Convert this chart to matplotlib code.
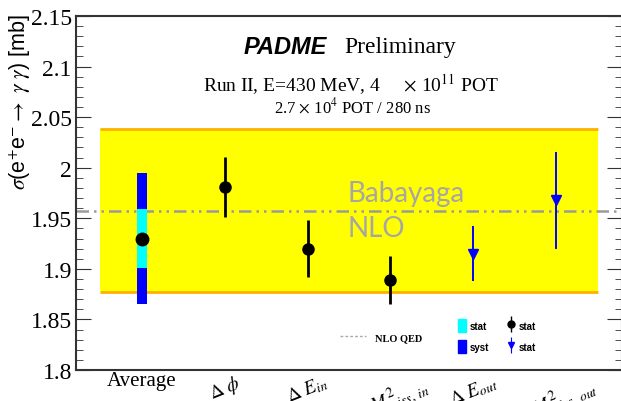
import matplotlib
matplotlib.use('Agg')
import matplotlib.pyplot as plt
from matplotlib.patches import Patch
from matplotlib.lines import Line2D
from matplotlib.ticker import MultipleLocator, FormatStrFormatter

plt.rcParams['mathtext.fontset'] = 'stix'

# categories on the x axis
labels = ['Average', r'$\Delta\ \phi$', r'$\Delta\ E_{in}$', r'$\Delta\ M^{2}_{miss,\, in}$',
          r'$\Delta\ E_{out}$', r'$\Delta\ M^{2}_{miss,\, out}$']

# average with stat and total (syst) bands
avg_val = 1.930
avg_stat = 0.029
avg_syst = 0.065

# black points (stat error only)
black_idx = [1, 2, 3]
black_vals = [1.981, 1.920, 1.889]
black_errs = [0.030, 0.028, 0.024]

# blue triangles (stat error only)
blue_idx = [4, 5]
blue_vals = [1.915, 1.968]
blue_errs = [0.027, 0.048]

# Babayaga NLO prediction and its band
nlo_qed = 1.957
band_lo = 1.877
band_hi = 2.038

fig = plt.figure(figsize=(6.21, 4.02), dpi=100)
ax = fig.add_axes([76 / 621, 31 / 402, 546 / 621, 354 / 402])

ax.fill_between([-0.5, 5.5], band_lo, band_hi, color='#ffff00', lw=0, zorder=1)
ax.hlines([band_lo, band_hi], -0.5, 5.5, color='#ffb000', lw=2.0, zorder=1.5)
ax.axhline(nlo_qed, color='#9a9a9a', lw=1.8, ls=(0, (5, 2, 1, 2, 1, 2)), zorder=2)

ax.bar(0, 2 * avg_syst, bottom=avg_val - avg_syst, width=0.12, color='#0000ff', zorder=3)
ax.bar(0, 2 * avg_stat, bottom=avg_val - avg_stat, width=0.12, color='#00ffff', zorder=3.5)
ax.plot([0], [avg_val], 'o', color='k', ms=9, zorder=5)

ax.errorbar(black_idx, black_vals, yerr=black_errs, fmt='o', color='k', ms=8,
            elinewidth=2, capsize=0, zorder=4)
ax.errorbar(blue_idx, blue_vals, yerr=blue_errs, fmt='v', color='#0000ff', ms=7,
            elinewidth=1.4, capsize=0, zorder=4)

ax.text(2.48, 1.967, 'Babayaga', color='#a6a6a6', fontsize=20, family='Lato',
        va='baseline', ha='left', zorder=6)
ax.text(2.48, 1.932, 'NLO', color='#a6a6a6', fontsize=20, family='Lato',
        va='baseline', ha='left', zorder=6)

ax.set_xlim(-0.795, 5.795)
ax.set_ylim(1.8, 2.15)
ax.yaxis.set_major_locator(MultipleLocator(0.05))
ax.yaxis.set_minor_locator(MultipleLocator(0.01))
ax.yaxis.set_major_formatter(FormatStrFormatter('%g'))
ax.tick_params(axis='y', which='both', direction='in', left=True, right=True,
               labelsize=17, pad=3, color='#333333')
ax.tick_params(axis='y', which='major', length=11)
ax.tick_params(axis='y', which='minor', length=5)
for t in ax.get_yticklabels():
    t.set_family('Liberation Serif')

ax.set_xticks(range(len(labels)))
ax.set_xticklabels(labels, family='Liberation Serif', fontsize=15)
ax.tick_params(axis='x', length=0, pad=1)
for i, t in enumerate(ax.get_xticklabels()):
    if i > 0:
        t.set_rotation(22)
        t.set_fontsize(14)
    t.set_ha('center')
    t.set_va('top')

for s in ax.spines.values():
    s.set_color('#333333')
    s.set_linewidth(1.5)

# header text
ax.text(0.384, 0.915, 'PADME', transform=ax.transAxes, fontsize=17, family='Liberation Sans',
        weight='bold', style='italic', ha='center', va='center')
ax.text(0.594, 0.915, 'Preliminary', transform=ax.transAxes, fontsize=17,
        family='Liberation Serif', ha='center', va='center')
ax.text(0.504, 0.81, r'Run II, E=430 MeV, 4     $\times$ 10$^{11}$ POT', transform=ax.transAxes,
        fontsize=14, family='Liberation Serif', ha='center', va='center')
ax.text(0.507, 0.746, r'2.7 $\times$ 10$^{4}$ POT / 280 ns', transform=ax.transAxes,
        fontsize=12, family='Liberation Serif', ha='center', va='center')

fig.text(20 / 621, 1 - 14 / 402, r'$\sigma$(e$^{+}$e$^{-}$$\rightarrow$ $\gamma$ $\gamma$) [mb]',
         rotation=90, ha='center', va='top', fontsize=15.5, family='Liberation Sans')

# legends
leg1 = ax.legend([Line2D([], [], color='#aaaaaa', ls=(0, (2, 1.5)), lw=1)], ['NLO QED'],
                 loc='center left', bbox_to_anchor=(0.466, 0.093), frameon=False,
                 prop={'family': 'Liberation Serif', 'weight': 'bold', 'size': 7.5},
                 handlelength=2.5, handletextpad=0.9)
ax.add_artist(leg1)

h_stat = Patch(color='#00ffff')
h_syst = Patch(color='#0000ff')
h_black = (Line2D([], [], marker='|', color='k', ms=11, mew=1, ls='none'),
           Line2D([], [], marker='o', color='k', ms=5, ls='none'))
h_blue = (Line2D([], [], marker='|', color='#0000ff', ms=11, mew=0.8, ls='none'),
          Line2D([], [], marker='v', color='#0000ff', ms=4, ls='none'))
ax.legend([h_stat, h_syst, h_black, h_blue], ['stat', 'syst', 'stat', 'stat'], ncol=2,
          loc='upper left', bbox_to_anchor=(0.687, 0.162), frameon=False,
          prop={'family': 'Liberation Sans', 'weight': 'bold', 'size': 7},
          handlelength=0.8, handleheight=1.65, handletextpad=0.4, labelspacing=0.8,
          columnspacing=1.9, borderpad=0.2)

fig.savefig('out.png', dpi=100)
